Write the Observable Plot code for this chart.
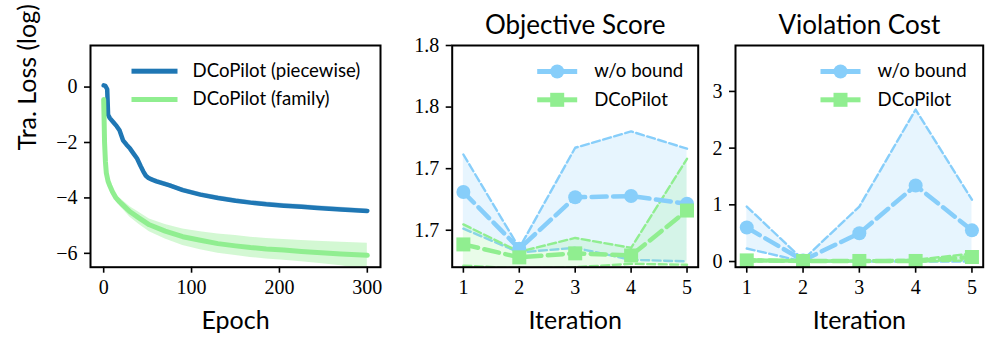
<!DOCTYPE html>
<html><head><meta charset="utf-8">
<script src="https://cdn.jsdelivr.net/npm/d3@7"></script>
<script src="https://cdn.jsdelivr.net/npm/@observablehq/plot@0.6"></script>
<style>
html,body{margin:0;padding:0;background:#fff;}
#root{position:relative;width:996px;height:350px;overflow:hidden;background:#fff;}
#root svg{position:absolute;top:0;}
</style></head><body><div id="root"></div>
<script>
// ---------- Panel 1: training loss ----------
const pieceEpochs = [0, 2, 4, 5, 7, 11, 15, 18, 22, 26, 30, 34, 38, 42, 45, 48, 51, 55, 60, 75, 90, 110, 130, 150, 167, 185, 205, 225, 243, 270, 300];
const piecewise   = [0.06, 0.04, -0.08, -1.0, -1.12, -1.27, -1.42, -1.56, -1.92, -2.08, -2.22, -2.4, -2.58, -2.85, -3.04, -3.2, -3.28, -3.34, -3.4, -3.55, -3.72, -3.88, -4.0, -4.1, -4.17, -4.23, -4.28, -4.32, -4.36, -4.42, -4.47];
const piecewiseHi = [0.06, 0.04, -0.08, -1.0, -1.08, -1.23, -1.38, -1.52, -1.88, -2.04, -2.17, -2.35, -2.53, -2.8, -2.98, -3.13, -3.2, -3.26, -3.32, -3.47, -3.64, -3.8, -3.92, -4.02, -4.09, -4.15, -4.2, -4.24, -4.28, -4.34, -4.4];
const piecewiseLo = [0.06, 0.04, -0.08, -1.0, -1.16, -1.31, -1.46, -1.6, -1.96, -2.12, -2.27, -2.45, -2.63, -2.9, -3.1, -3.27, -3.36, -3.42, -3.48, -3.63, -3.8, -3.96, -4.08, -4.18, -4.25, -4.31, -4.36, -4.4, -4.44, -4.5, -4.55];

const famEpochs = [0, 0.5, 1, 2, 3, 5, 7, 10, 14, 18, 22, 30, 40, 52, 70, 90, 110, 130, 150, 167, 185, 205, 225, 243, 270, 300];
const family    = [-0.45, -1.2, -2.0, -2.7, -3.1, -3.4, -3.56, -3.78, -4.0, -4.14, -4.26, -4.5, -4.72, -4.97, -5.2, -5.4, -5.53, -5.65, -5.73, -5.79, -5.84, -5.88, -5.93, -5.97, -6.02, -6.07];
const familyHi  = [-0.45, -1.2, -2.0, -2.68, -3.06, -3.34, -3.48, -3.68, -3.88, -4.0, -4.1, -4.32, -4.52, -4.76, -4.96, -5.12, -5.22, -5.3, -5.36, -5.42, -5.46, -5.5, -5.54, -5.56, -5.6, -5.64];
const familyLo  = [-0.45, -1.2, -2.0, -2.72, -3.14, -3.46, -3.64, -3.88, -4.12, -4.28, -4.42, -4.7, -4.95, -5.22, -5.48, -5.72, -5.87, -6.0, -6.08, -6.15, -6.2, -6.25, -6.3, -6.36, -6.45, -6.6];

const lossXTicks = [0, 100, 200, 300];
const lossYTicks = [0, -2, -4, -6];
const lossSeries = ["DCoPilot (piecewise)", "DCoPilot (family)"];

// ---------- Panels 2 & 3 ----------
const iterations = [1, 2, 3, 4, 5];
const seriesNames = ["w/o bound", "DCoPilot"];

const objWob   = [1.7324, 1.7140, 1.7307, 1.7311, 1.7286];
const objWobHi = [1.7446, 1.7142, 1.7468, 1.7521, 1.7465];
const objWobLo = [1.7205, 1.7128, 1.7143, 1.7104, 1.7099];
const objDco   = [1.7154, 1.7112, 1.7125, 1.7118, 1.7264];
const objDcoHi = [1.7219, 1.7130, 1.7175, 1.7143, 1.7432];
const objDcoLo = [1.7085, 1.7076, 1.7080, 1.7091, 1.7088];
const objYTicks = [1.72, 1.74, 1.76, 1.78];
const objYTickLabels = ["1.7", "1.7", "1.8", "1.8"];

const vioWob   = [0.60, 0.02, 0.50, 1.34, 0.55];
const vioWobHi = [0.97, 0.03, 0.97, 2.68, 1.09];
const vioWobLo = [0.23, 0.00, 0.00, 0.00, 0.00];
const vioDco   = [0.02, 0.01, 0.01, 0.01, 0.08];
const vioDcoHi = [0.04, 0.02, 0.02, 0.03, 0.14];
const vioDcoLo = [0.00, 0.00, 0.00, 0.00, 0.02];
const vioYTicks = [0, 1, 2, 3];

// ---------- styling ----------
const BLUE = "#1f77b4", LB = "#87cefa", LG = "#90ee90";
const SERIF = "'Liberation Serif', 'DejaVu Serif', serif";
const SANS = "Lato, 'Open Sans', sans-serif";
const H = 350, MT = 45, MB = 83.3;
const FH = H - MT - MB;

function swatch(fw, x1, x2, y, t, color) {
  return Plot.frame({fill: color, stroke: "none", insetLeft: x1, insetRight: fw - x2, insetTop: y - t / 2, insetBottom: FH - y - t / 2});
}
function label(txt, opts) {
  return Plot.text([txt], {text: d => d, fontFamily: SANS, lineAnchor: "middle", ...opts});
}
function axes(xTicks, yTicks, yFmt) {
  const common = {tickSize: 6, tickPadding: 7, strokeWidth: 1.6, label: null, fontFamily: SERIF, fontSize: 20};
  return [
    Plot.axisX({ticks: xTicks, tickFormat: d3.format("d"), ...common}),
    Plot.axisY({ticks: yTicks, tickFormat: yFmt, ...common})
  ];
}

const root = document.getElementById("root");
function place(svg, left) {
  svg.style.left = left + "px";
  svg.style.background = "transparent";
  svg.style.fontFamily = SERIF;
  svg.style.fontSize = "20px";
  svg.style.color = "black";
  svg.style.overflow = "visible";
  root.appendChild(svg);
}

// Panel 1
{
  const W = 390, ML = 90, MR = 10, FW = W - ML - MR;
  const pw = pieceEpochs.map((e, i) => ({epoch: e, v: piecewise[i], hi: piecewiseHi[i], lo: piecewiseLo[i]}));
  const fm = famEpochs.map((e, i) => ({epoch: e, v: family[i], hi: familyHi[i], lo: familyLo[i]}));
  const svg = Plot.plot({
    width: W, height: H, marginLeft: ML, marginRight: MR, marginTop: MT, marginBottom: MB,
    x: {domain: [-15, 315]},
    y: {domain: [-6.5, 1.5]},
    marks: [
      Plot.areaY(pw, {x: "epoch", y1: "lo", y2: "hi", fill: BLUE, fillOpacity: 0.3, clip: true}),
      Plot.areaY(fm, {x: "epoch", y1: "lo", y2: "hi", fill: LG, fillOpacity: 0.4, clip: true}),
      Plot.line(pw, {x: "epoch", y: "v", stroke: BLUE, strokeWidth: 4.5, clip: true}),
      Plot.line(fm, {x: "epoch", y: "v", stroke: LG, strokeWidth: 5, clip: true}),
      Plot.frame({stroke: "black", strokeWidth: 2}),
      ...axes(lossXTicks, lossYTicks, d3.format("d")),
      swatch(FW, 41, 87, 25.7, 5, BLUE),
      swatch(FW, 41, 87, 54, 5, LG),
      label(lossSeries[0], {frameAnchor: "top-left", dx: 102, dy: 25.7, textAnchor: "start", fontSize: 18.6}),
      label(lossSeries[1], {frameAnchor: "top-left", dx: 102, dy: 54, textAnchor: "start", fontSize: 18.6}),
      label("Epoch", {frameAnchor: "bottom", dy: 54, fontSize: 25}),
      label("Tra. Loss (log)", {frameAnchor: "left", dx: -63, dy: -6, rotate: -90, fontSize: 25})
    ]
  });
  place(svg, 0);
}

function iterPanel(left, W, ML, MR, yDomain, yTicks, yFmt, title, wob, wobHi, wobLo, dco, dcoHi, dcoLo) {
  const FW = W - ML - MR;
  const rows = iterations.map((it, i) => ({it, wob: wob[i], wobHi: wobHi[i], wobLo: wobLo[i], dco: dco[i], dcoHi: dcoHi[i], dcoLo: dcoLo[i]}));
  const svg = Plot.plot({
    width: W, height: H, marginLeft: ML, marginRight: MR, marginTop: MT, marginBottom: MB,
    x: {domain: [0.8, 5.2]},
    y: {domain: yDomain},
    marks: [
      Plot.areaY(rows, {x: "it", y1: "wobLo", y2: "wobHi", fill: LB, fillOpacity: 0.2, clip: true}),
      Plot.line(rows, {x: "it", y: "wobHi", stroke: LB, strokeWidth: 2.4, strokeDasharray: "8,3.5", clip: true}),
      Plot.line(rows, {x: "it", y: "wobLo", stroke: LB, strokeWidth: 2.4, strokeDasharray: "8,3.5", clip: true}),
      Plot.areaY(rows, {x: "it", y1: "dcoLo", y2: "dcoHi", fill: LG, fillOpacity: 0.2, clip: true}),
      Plot.line(rows, {x: "it", y: "dcoHi", stroke: LG, strokeWidth: 2.4, strokeDasharray: "8,3.5", clip: true}),
      Plot.line(rows, {x: "it", y: "dcoLo", stroke: LG, strokeWidth: 2.4, strokeDasharray: "8,3.5", clip: true}),
      Plot.line(rows, {x: "it", y: "wob", stroke: LB, strokeWidth: 4.5, strokeDasharray: "15,6.5", clip: true}),
      Plot.dot(rows, {x: "it", y: "wob", r: 7, fill: LB, symbol: "circle"}),
      Plot.line(rows, {x: "it", y: "dco", stroke: LG, strokeWidth: 4.5, strokeDasharray: "15,6.5", clip: true}),
      Plot.dot(rows, {x: "it", y: "dco", r: 7.9, fill: LG, symbol: "square"}),
      Plot.frame({stroke: "black", strokeWidth: 2}),
      ...axes(iterations, yTicks, yFmt),
      swatch(FW, 85, 125, 26, 5, LB),
      Plot.dot([0], {frameAnchor: "top-left", dx: 105, dy: 26, r: 7, fill: LB, symbol: "circle"}),
      swatch(FW, 85, 125, 54.3, 5, LG),
      Plot.dot([0], {frameAnchor: "top-left", dx: 105, dy: 54.3, r: 7.9, fill: LG, symbol: "square"}),
      label(seriesNames[0], {frameAnchor: "top-left", dx: 142, dy: 26, textAnchor: "start", fontSize: 18.6}),
      label(seriesNames[1], {frameAnchor: "top-left", dx: 142, dy: 54.3, textAnchor: "start", fontSize: 18.6}),
      label(title, {frameAnchor: "top", dy: -20, fontSize: 26}),
      label("Iteration", {frameAnchor: "bottom", dy: 54, fontSize: 25})
    ]
  });
  place(svg, left);
}

iterPanel(400, 320, 51.7, 22.3, [1.708, 1.78], objYTicks, (d, i) => objYTickLabels[i], "Objective Score",
  objWob, objWobHi, objWobLo, objDco, objDcoHi, objDcoLo);
iterPanel(690, 306, 45, 13.3, [-0.1, 3.81], vioYTicks, d3.format("d"), "Violation Cost",
  vioWob, vioWobHi, vioWobLo, vioDco, vioDcoHi, vioDcoLo);
</script></body></html>
